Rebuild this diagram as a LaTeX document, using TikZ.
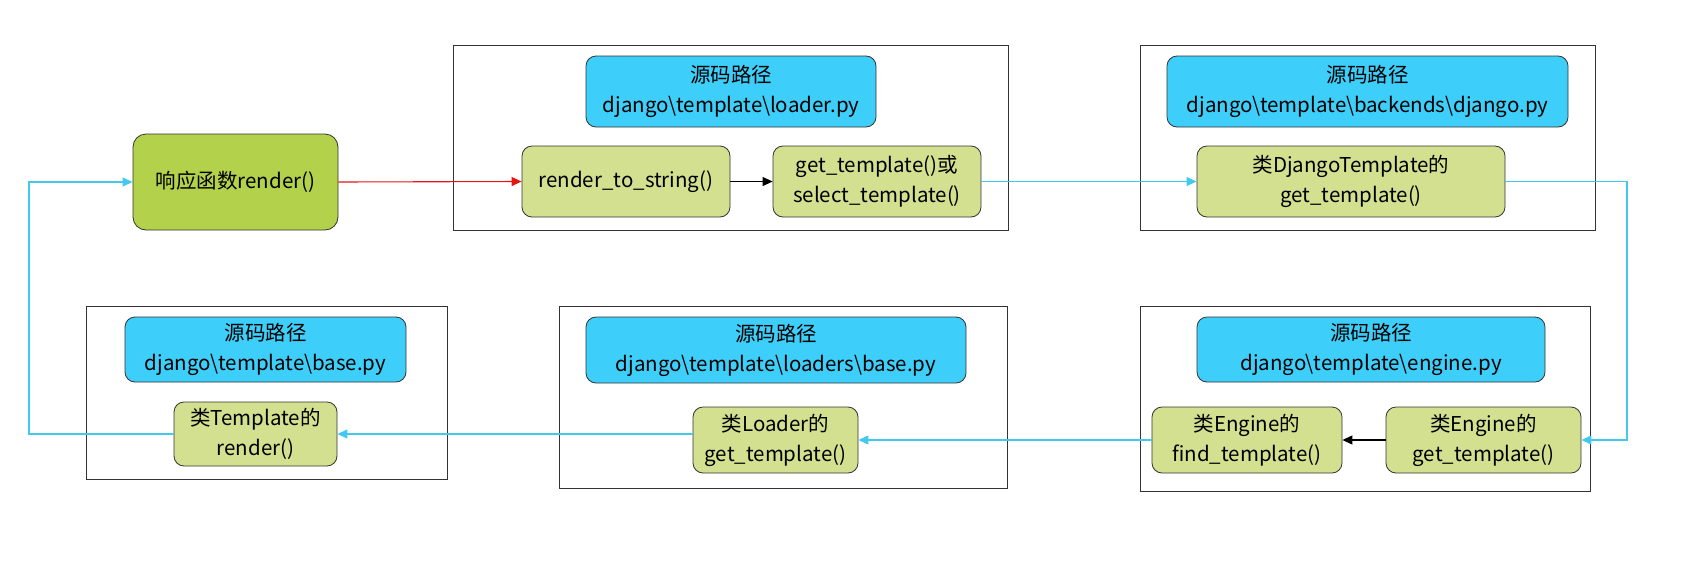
\documentclass[tikz,border=0pt]{standalone}
\usepackage{fontspec}
\setmainfont{Noto Sans CJK SC}
\usetikzlibrary{arrows.meta}
\definecolor{framegray}{RGB}{51,51,51}
\definecolor{maingreen}{RGB}{179,209,74}
\definecolor{lightgreen}{RGB}{211,224,143}
\definecolor{pathblue}{RGB}{61,207,250}
\definecolor{linecyan}{RGB}{69,200,240}
\definecolor{redline}{RGB}{230,20,20}
\tikzset{
  frame/.style={draw=framegray, line width=1pt, fill=none, inner sep=0pt},
  pathbox/.style={draw=framegray, line width=0.8pt, fill=pathblue, rounded corners=10pt, align=center, inner sep=0pt},
  funcbox/.style={draw=framegray, line width=0.8pt, fill=lightgreen, rounded corners=10pt, align=center, inner sep=0pt},
  mainbox/.style={draw=framegray, line width=0.8pt, fill=maingreen, rounded corners=13pt, align=center, inner sep=0pt},
  tip/.style={-{Triangle[length=10pt,width=9pt]}},
  cyanline/.style={draw=linecyan, line width=1.1pt},
  txt/.style={font=\fontsize{20.5}{30}\selectfont}
}
\begin{document}
\begin{tikzpicture}[x=1pt,y=-1pt]
\useasboundingbox (0,0) rectangle (1698,568);
% frames
\node[frame, minimum width=555pt, minimum height=185pt] (boxA) at (730.5,137.5) {};
\node[frame, minimum width=455pt, minimum height=185pt] (boxB) at (1367.5,137.5) {};
\node[frame, minimum width=361pt, minimum height=173pt] (boxC) at (266.5,392.5) {};
\node[frame, minimum width=448pt, minimum height=182pt] (boxD) at (783,397) {};
\node[frame, minimum width=450pt, minimum height=185pt] (boxE) at (1365,398.5) {};
% path boxes
\node[pathbox, txt, minimum width=290pt, minimum height=71pt] (blueA) at (731,91.5) {源码路径\\django\textbackslash template\textbackslash loader.py};
\node[pathbox, txt, minimum width=401pt, minimum height=71pt] (blueB) at (1367.5,91.5) {源码路径\\django\textbackslash template\textbackslash backends\textbackslash django.py};
\node[pathbox, txt, minimum width=281pt, minimum height=65pt] (blueC) at (265.5,349.5) {源码路径\\django\textbackslash template\textbackslash base.py};
\node[pathbox, txt, minimum width=380pt, minimum height=66pt] (blueD) at (776,350) {源码路径\\django\textbackslash template\textbackslash loaders\textbackslash base.py};
\node[pathbox, txt, minimum width=348pt, minimum height=65pt] (blueE) at (1371,349.5) {源码路径\\django\textbackslash template\textbackslash engine.py};
% function boxes
\node[mainbox, txt, minimum width=205pt, minimum height=96pt] (render) at (235.5,182) {响应函数render()};
\node[funcbox, txt, minimum width=208pt, minimum height=71pt] (rts) at (626,181.5) {render\_to\_string()};
\node[funcbox, txt, minimum width=208pt, minimum height=71pt] (gt) at (877,181.5) {get\_template()或\\select\_template()};
\node[funcbox, txt, minimum width=308pt, minimum height=71pt] (dt) at (1351,181.5) {类DjangoTemplate的\\get\_template()};
\node[funcbox, txt, minimum width=163pt, minimum height=64pt] (tmpl) at (255.5,434) {类Template的\\render()};
\node[funcbox, txt, minimum width=165pt, minimum height=66pt] (loader) at (775.5,440) {类Loader的\\get\_template()};
\node[funcbox, txt, minimum width=190pt, minimum height=66pt] (find) at (1247,440) {类Engine的\\find\_template()};
\node[funcbox, txt, minimum width=195pt, minimum height=66pt] (getE) at (1483.5,440) {类Engine的\\get\_template()};
% helper coordinates
\coordinate (rtop) at (1627,181.5);
\coordinate (rbot) at (1627,440);
\coordinate (lbot) at (29,434);
\coordinate (ltop) at (29,182);
% connectors
\draw[tip, draw=redline, line width=1.1pt] (render.east) -- (rts.west);
\draw[tip, draw=black, line width=1.1pt] (rts.east) -- (gt.west);
\draw[tip, cyanline] (gt.east) -- (dt.west);
\draw[tip, cyanline] (dt.east) -- (rtop) -- (rbot) -- (getE.east);
\draw[tip, draw=black, line width=1.1pt] (getE.west) -- (find.east);
\draw[tip, cyanline] (find.west) -- (loader.east);
\draw[tip, cyanline] (loader.west |- tmpl.east) -- (tmpl.east);
\draw[tip, cyanline] (tmpl.west) -- (lbot) -- (ltop) -- (render.west);
\end{tikzpicture}
\end{document}
